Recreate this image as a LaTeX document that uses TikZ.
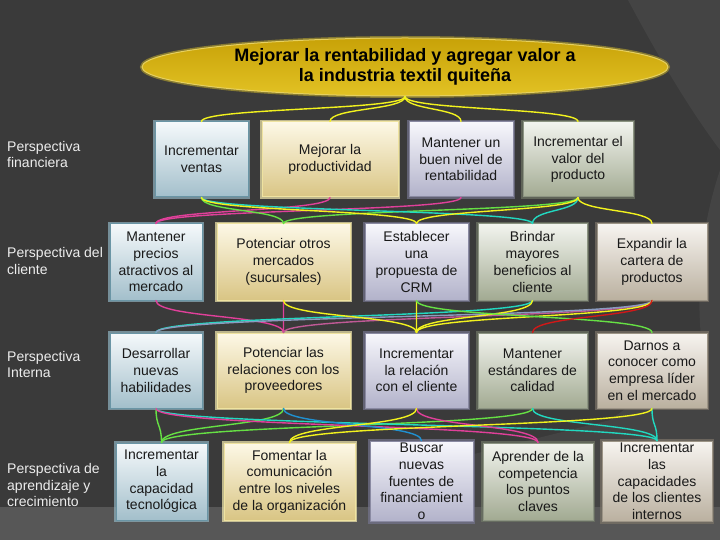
\documentclass[tikz,border=0pt]{standalone}
\usepackage{fontspec}
\setmainfont{Liberation Sans}
\usetikzlibrary{shapes.geometric,calc}
\definecolor{bg}{HTML}{3A3A3A}
\definecolor{bgl}{HTML}{444444}
\definecolor{bgb}{HTML}{575757}
\definecolor{cY}{HTML}{F2F21E}
\definecolor{cG}{HTML}{66E044}
\definecolor{cC}{HTML}{22D8C0}
\definecolor{cP}{HTML}{E0409A}
\definecolor{cB}{HTML}{2090D0}
\definecolor{cR}{HTML}{D01818}
\definecolor{cS}{HTML}{8A9CC0}
\definecolor{cM}{HTML}{C05A96}
% box colours
\definecolor{blB}{HTML}{6A95A5}\definecolor{blT}{HTML}{F5F9FB}\definecolor{blM}{HTML}{CADDE5}
\definecolor{blD}{HTML}{A3BFCB}\definecolor{blG}{HTML}{8FB3C0}
\definecolor{goB}{HTML}{EFE3A0}\definecolor{goT}{HTML}{FDF8E6}\definecolor{goM}{HTML}{EDE0B4}
\definecolor{goD}{HTML}{D9C584}\definecolor{goG}{HTML}{F5EBB0}
\definecolor{laB}{HTML}{8A8AA2}\definecolor{laT}{HTML}{F7F7FC}\definecolor{laM}{HTML}{D7D7E6}
\definecolor{laD}{HTML}{B2B2CA}\definecolor{laG}{HTML}{74748E}
\definecolor{grB}{HTML}{8C9482}\definecolor{grT}{HTML}{F2F4EE}\definecolor{grM}{HTML}{C9CEBD}
\definecolor{grD}{HTML}{A2AA92}\definecolor{grG}{HTML}{6F7766}
\definecolor{taB}{HTML}{9C9486}\definecolor{taT}{HTML}{F7F4F0}\definecolor{taM}{HTML}{D9D2C8}
\definecolor{taD}{HTML}{BAB09F}\definecolor{taG}{HTML}{7C7468}
\definecolor{ptext}{HTML}{EDEDED}
\definecolor{elB}{HTML}{E6D060}\definecolor{elT}{HTML}{C8A208}\definecolor{elM}{HTML}{D6B210}
\definecolor{elD}{HTML}{E2C224}\definecolor{elG}{HTML}{9A8A30}
\newcommand\conn[3]{\draw[lk,#1] (#2.south) .. controls ($(#2.south)!0.55!(#2.south|-#3.north)$) and ($(#3.north)!0.55!(#3.north|-#2.south)$) .. (#3.north);}
\begin{document}
\begin{tikzpicture}[x=1pt,y=-1pt,
  lk/.style={line width=1.4pt,line cap=round},
  box/.style={rectangle,minimum height=75pt,align=center,inner sep=2pt,
     font=\fontsize{14}{16.7}\selectfont,text=black!90,line width=1pt},
  bluebox/.style={box,draw=blB,top color=blT,middle color=blM,bottom color=blD,
     preaction={draw=blG,line width=4pt,draw opacity=0.7}},
  goldbox/.style={box,draw=goB,top color=goT,middle color=goM,bottom color=goD,
     preaction={draw=goG,line width=4pt,draw opacity=0.7}},
  lavbox/.style={box,draw=laB,top color=laT,middle color=laM,bottom color=laD,
     preaction={draw=laG,line width=4pt,draw opacity=0.7}},
  grnbox/.style={box,draw=grB,top color=grT,middle color=grM,bottom color=grD,
     preaction={draw=grG,line width=4pt,draw opacity=0.7}},
  tanbox/.style={box,draw=taB,top color=taT,middle color=taM,bottom color=taD,
     preaction={draw=taG,line width=4pt,draw opacity=0.7}},
  persp/.style={anchor=west,align=left,text=ptext,font=\fontsize{14}{16.7}\selectfont,inner sep=0pt}
]
\useasboundingbox (0,0) rectangle (720,540);
% background
\fill[bg] (0,0) rectangle (720,540);
\fill[bgl] (628,0) .. controls (660,60) and (690,110) .. (720,150) -- (720,0) -- cycle;
\fill[bgl] (720,170) .. controls (690,260) and (695,350) .. (720,440) -- cycle;
\fill[bgl] (355,540) -- (470,455) -- (610,420) -- (720,340) -- (720,540) -- cycle;
\fill[bgb] (0,507) rectangle (720,540);

% goal
\node[ellipse,minimum width=526pt,minimum height=58pt,draw=elB,line width=1pt,
  top color=elT,middle color=elM,bottom color=elD,
  preaction={draw=elG,line width=4pt,draw opacity=0.8},
  align=center,font=\bfseries\fontsize{18}{20.5}\selectfont,text=black,inner sep=0pt]
  (goal) at (405,67) {Mejorar la rentabilidad y agregar valor a\\la industria textil quiteña};

% perspectives
\node[persp] (p1) at (7,154.5) {Perspectiva\\financiera};
\node[persp] (p2) at (7,261) {Perspectiva del\\cliente};
\node[persp] (p3) at (7,364.5) {Perspectiva\\Interna};
\node[persp] (p4) at (7,485) {Perspectiva de\\aprendizaje y\\crecimiento};

% row 1
\node[bluebox,minimum width=93pt] (r1a) at (201.5,159.5) {Incrementar\\ventas};
\node[goldbox,minimum width=136pt] (r1b) at (330,159.5) {Mejorar la\\productividad};
\node[lavbox,minimum width=104pt] (r1c) at (461,159.5) {Mantener un\\buen nivel de\\rentabilidad};
\node[grnbox,minimum width=110pt] (r1d) at (578,159.5) {Incrementar el\\valor del\\producto};
% row 2
\node[bluebox,minimum width=92pt,minimum height=76pt] (r2a) at (156,262) {Mantener\\precios\\atractivos al\\mercado};
\node[goldbox,minimum width=133pt,minimum height=76pt] (r2b) at (283.5,262) {Potenciar otros\\mercados\\(sucursales)};
\node[lavbox,minimum width=103pt,minimum height=76pt] (r2c) at (416.5,262) {Establecer\\una\\propuesta de\\CRM};
\node[grnbox,minimum width=109pt,minimum height=76pt] (r2d) at (532.5,262) {Brindar\\mayores\\beneficios al\\cliente};
\node[tanbox,minimum width=110pt,minimum height=76pt] (r2e) at (652,262) {Expandir la\\cartera de\\productos};
% row 3
\node[bluebox,minimum width=92pt] (r3a) at (156,370.5) {Desarrollar\\nuevas\\habilidades};
\node[goldbox,minimum width=133pt] (r3b) at (283.5,370.5) {Potenciar las\\relaciones con los\\proveedores};
\node[lavbox,minimum width=103pt] (r3c) at (416.5,370.5) {Incrementar\\la relación\\con el cliente};
\node[grnbox,minimum width=109pt] (r3d) at (532.5,370.5) {Mantener\\estándares de\\calidad};
\node[tanbox,minimum width=110pt] (r3e) at (652,370.5) {Darnos a\\conocer como\\empresa líder\\en el mercado};
% row 4
\node[bluebox,minimum width=91pt,minimum height=77pt] (r4a) at (161.5,481.5) {Incrementar\\la\\capacidad\\tecnológica};
\node[goldbox,minimum width=131pt,minimum height=77pt] (r4b) at (289.5,481.5) {Fomentar la\\comunicación\\entre los niveles\\de la organización};
\node[lavbox,minimum width=103pt,minimum height=77pt] (r4c) at (421.5,481.5) {Buscar\\nuevas\\fuentes de\\financiamient\\o};
\node[grnbox,minimum width=110pt,minimum height=77pt] (r4d) at (538,481.5) {Aprender de la\\competencia\\los puntos\\claves};
\node[tanbox,minimum width=110pt,minimum height=77pt] (r4e) at (657,481.5) {Incrementar\\las\\capacidades\\de los clientes\\internos};

% connectors goal -> row 1
\conn{cY}{goal}{r1a}
\conn{cY}{goal}{r1b}
\conn{cY}{goal}{r1c}
\conn{cY}{goal}{r1d}
% row 1 -> row 2
\conn{cP}{r1b}{r2a}
\conn{cP}{r1c}{r2a}
\conn{cG}{r1a}{r2b}
\conn{cG}{r1d}{r2b}
\conn{cC}{r1a}{r2d}
\conn{cC}{r1d}{r2d}
\conn{cY}{r1a}{r2c}
\conn{cY}{r1d}{r2c}
\conn{cY}{r1d}{r2e}
% row 2 -> row 3
\conn{cP}{r2a}{r3b}
\conn{cP}{r2b}{r3b}
\conn{cM}{r2e}{r3b}
\conn{cC}{r2d}{r3a}
\conn{cS}{r2e}{r3a}
\conn{cY}{r2b}{r3c}
\conn{cY}{r2c}{r3c}
\conn{cY}{r2d}{r3c}
\conn{cY}{r2e}{r3c}
\conn{cG}{r2c}{r3e}
\conn{cR}{r2e}{r3d}
% row 3 -> row 4
\conn{cG}{r3a}{r4a}
\conn{cG}{r3b}{r4a}
\conn{cG}{r3d}{r4a}
\conn{cC}{r3a}{r4e}
\conn{cC}{r3d}{r4e}
\conn{cC}{r3e}{r4e}
\conn{cP}{r3a}{r4d}
\conn{cP}{r3c}{r4d}
\conn{cB}{r3b}{r4c}
\conn{cY}{r3c}{r4b}
\conn{cY}{r3e}{r4b}
\end{tikzpicture}
\end{document}
